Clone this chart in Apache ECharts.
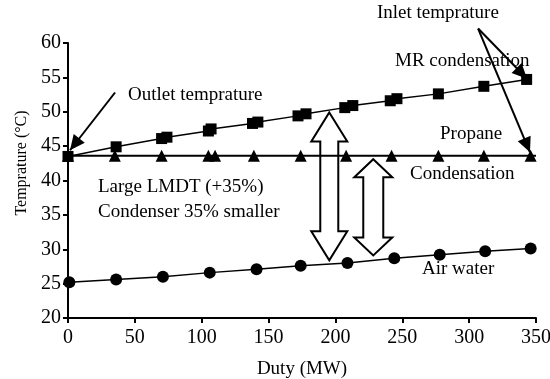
<!DOCTYPE html>
<html>
<head>
<meta charset="utf-8">
<script src="https://cdn.jsdelivr.net/npm/echarts@6/dist/echarts.min.js"></script>
<style>
  html, body { margin: 0; padding: 0; background: #fff; }
  #chart { width: 550px; height: 379px; }
</style>
</head>
<body>
<div id="chart"></div>
<script>
// MR condensation (squares)
const mrDuty = [0, 36, 70, 74, 105, 107, 138, 142, 172, 178, 207, 213, 241, 246, 277, 311, 343]
const mrTemp = [43.5, 44.9, 46.1, 46.3, 47.2, 47.5, 48.3, 48.5, 49.4, 49.7, 50.6, 50.9, 51.6, 51.9, 52.6, 53.7, 54.7]

// Propane condensation (triangles)
const propDuty = [0, 35, 70, 105, 110, 139, 174, 208, 242, 277, 311, 346]
const propTemp = [43.6, 43.6, 43.6, 43.6, 43.6, 43.6, 43.6, 43.6, 43.6, 43.6, 43.6, 43.6]

// Air water (circles)
const airDuty = [1, 36, 71, 106, 141, 174, 209, 244, 278, 312, 346]
const airTemp = [25.2, 25.6, 26.0, 26.6, 27.1, 27.6, 28.0, 28.7, 29.2, 29.7, 30.1]

const xTicks = [0, 50, 100, 150, 200, 250, 300, 350]
const yTicks = [20, 25, 30, 35, 40, 45, 50, 55, 60]

const font = '"Liberation Serif", "Times New Roman", serif'

const chart = echarts.init(document.getElementById('chart'))

const pair = (xs, ys) => xs.map((x, i) => [x, ys[i]])

const axisCommon = {
  axisLine: { show: true, onZero: false, lineStyle: { color: '#000', width: 2 } },
  axisTick: { show: true, inside: false, length: 5, lineStyle: { color: '#000', width: 2 } },
  splitLine: { show: false },
  axisLabel: { color: '#000', fontFamily: font, fontSize: 20 }
}

chart.setOption({
  animation: false,
  backgroundColor: '#fff',
  grid: { left: 68, right: 14, top: 43, bottom: 61, containLabel: false, outerBoundsMode: 'none' },
  xAxis: {
    type: 'value',
    min: xTicks[0],
    max: xTicks[xTicks.length - 1],
    interval: 50,
    name: 'Duty (MW)',
    nameLocation: 'middle',
    nameGap: 42,
    nameTextStyle: { color: '#000', fontFamily: font, fontSize: 19 },
    ...axisCommon,
    axisLabel: { ...axisCommon.axisLabel, margin: 10 }
  },
  yAxis: {
    type: 'value',
    min: yTicks[0],
    max: yTicks[yTicks.length - 1],
    interval: 5,
    ...axisCommon,
    axisLabel: { ...axisCommon.axisLabel, margin: 7 }
  },
  series: [
    {
      type: 'line',
      data: pair(airDuty, airTemp),
      symbol: 'circle',
      symbolSize: 12,
      lineStyle: { color: '#000', width: 1.5 },
      itemStyle: { color: '#000' },
      z: 3
    },
    {
      type: 'line',
      data: pair(mrDuty, mrTemp),
      symbol: 'rect',
      symbolSize: 11,
      lineStyle: { color: '#000', width: 1.5 },
      itemStyle: { color: '#000' },
      z: 3
    },
    {
      type: 'line',
      data: [
        ...pair(propDuty, propTemp),
        { value: [350, propTemp[0]], symbol: 'none' }
      ],
      symbol: 'triangle',
      symbolSize: 12,
      showAllSymbol: true,
      lineStyle: { color: '#000', width: 2 },
      itemStyle: { color: '#000' },
      z: 3
    }
  ]
})

const px = (x, y) => chart.convertToPixel({ gridIndex: 0 }, [x, y])

function arrowHead(tip, from, len, half) {
  const dx = tip[0] - from[0], dy = tip[1] - from[1]
  const d = Math.hypot(dx, dy)
  const ux = dx / d, uy = dy / d
  const bx = tip[0] - ux * len, by = tip[1] - uy * len
  return {
    type: 'polygon',
    shape: { points: [tip, [bx - uy * half, by + ux * half], [bx + uy * half, by - ux * half]] },
    style: { fill: '#000' },
    z: 10
  }
}

function pointer(fromData, toData) {
  const a = px(...fromData), b = px(...toData)
  return [
    { type: 'line', shape: { x1: a[0], y1: a[1], x2: b[0], y2: b[1] }, style: { stroke: '#000', lineWidth: 2 }, z: 10 },
    arrowHead(b, a, 15, 7)
  ]
}

function doubleArrow(x, yTop, yBot, headHalf, headLen, shaftHalf) {
  const t = px(x, yTop), b = px(x, yBot)
  const cx = t[0]
  const pts = [
    [cx, t[1]],
    [cx + headHalf, t[1] + headLen],
    [cx + shaftHalf, t[1] + headLen],
    [cx + shaftHalf, b[1] - headLen],
    [cx + headHalf, b[1] - headLen],
    [cx, b[1]],
    [cx - headHalf, b[1] - headLen],
    [cx - shaftHalf, b[1] - headLen],
    [cx - shaftHalf, t[1] + headLen],
    [cx - headHalf, t[1] + headLen]
  ]
  return {
    type: 'polygon',
    shape: { points: pts },
    style: { fill: 'rgba(255,255,255,0)', stroke: '#000', lineWidth: 2 },
    z: 9
  }
}

function label(text, left, top) {
  return {
    type: 'text',
    left, top,
    style: { text, fill: '#000', font: '19px ' + font },
    z: 11
  }
}

chart.setOption({
  graphic: [
    doubleArrow(195.4, 49.9, 28.4, 18, 29, 9),
    doubleArrow(228.3, 43.1, 29.1, 19, 18, 10),
    ...pointer([35.2, 52.8], [1.5, 44.4]),
    ...pointer([306.7, 62.1], [343.3, 54.8]),
    ...pointer([306.7, 62.1], [345.5, 44.1]),
    {
      type: 'text',
      x: 22, y: 163,
      rotation: Math.PI / 2,
      style: { text: 'Temprature (°C)', fill: '#000', font: '16px ' + font, align: 'center', verticalAlign: 'middle' },
      z: 11
    },
    label('Outlet temprature', 128, 86),
    label('Inlet temprature', 377, 4),
    label('MR condensation', 395, 52),
    label('Propane', 440, 125),
    label('Condensation', 410, 165),
    label('Large LMDT (+35%)', 98, 178),
    label('Condenser 35% smaller', 98, 203),
    label('Air water', 422, 260)
  ]
})
</script>
</body>
</html>
